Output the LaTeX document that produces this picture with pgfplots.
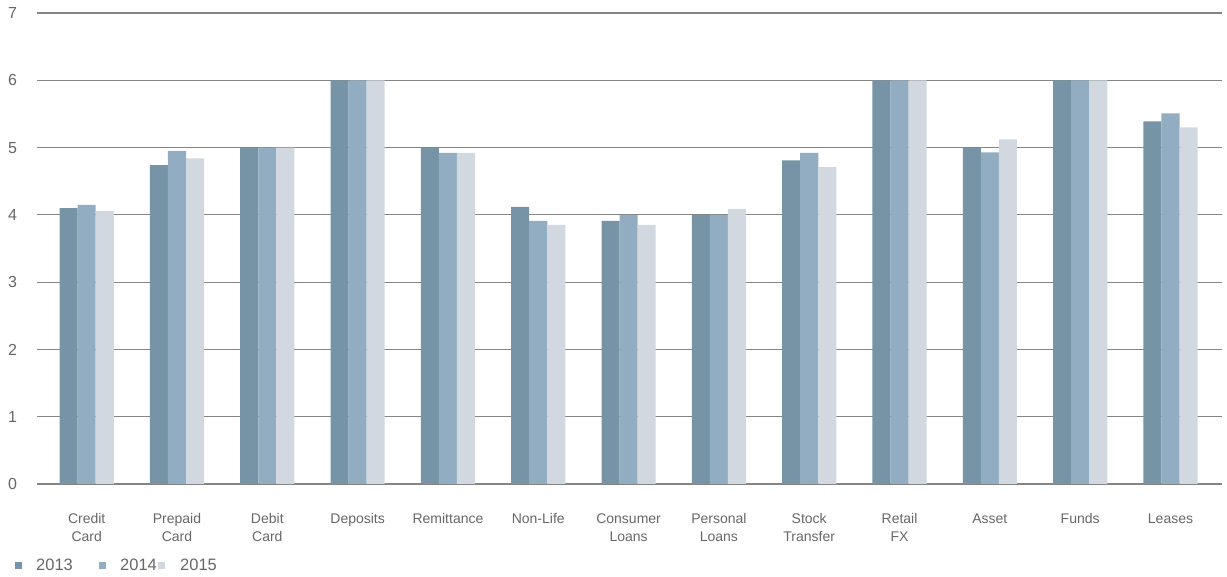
\documentclass[border=0pt]{standalone}
\usepackage{pgfplots}
\pgfplotsset{compat=1.18}
\usepackage{fontspec}
\setmainfont{Liberation Sans}
\definecolor{cA}{HTML}{7793A6}
\definecolor{cB}{HTML}{92ADC2}
\definecolor{cC}{HTML}{D1D8E0}
\definecolor{txt}{HTML}{676767}
\definecolor{grd}{HTML}{858585}
\begin{document}
\begin{tikzpicture}
\useasboundingbox (-37pt,-93pt) rectangle (1190pt,484pt);
\begin{axis}[
  at={(0pt,0pt)}, anchor=south west,
  scale only axis, width=1185pt, height=471pt,
  ybar, bar width=0.2,
  xmin=-0.55, xmax=12.57, ymin=0, ymax=7,
  axis line style={draw=none},
  ymajorgrids, grid style={grd, line width=1.1pt},
  major tick length=0pt,
  xtick={0,...,12}, ytick={0,...,7},
  xticklabels={{Credit\\Card},{Prepaid\\Card},{Debit\\Card},{Deposits},{Remittance},{Non-Life},{Consumer\\Loans},{Personal\\Loans},{Stock\\Transfer},{Retail\\FX},{Asset},{Funds},{Leases}},
  typeset ticklabels with strut,
  xticklabel style={align=center, anchor=north, inner sep=0pt, yshift=-26pt, font=\fontsize{14}{18.5}\selectfont, text=txt},
  yticklabel style={anchor=west, inner sep=0pt, xshift=-29pt, yshift=-2pt, font=\fontsize{16}{18}\selectfont, text=txt},
  /pgf/number format/assume math mode=true,
  legend columns=3,
  legend style={at={(axis description cs:-0.0211,-0.172)}, anchor=west, draw=none, fill=none, column sep=0pt, font=\fontsize{16.5}{18}\selectfont, text=txt, nodes={inner sep=0pt}},
]
\addplot[fill=cA, draw=none, bar shift=-0.2, legend image code/.code={\fill[cA] (0pt,-3.5pt) rectangle (7pt,3.5pt); \path (21pt,0pt);}] coordinates {(0,4.10) (1,4.74) (2,5.0) (3,6.0) (4,5.0) (5,4.12) (6,3.91) (7,4.0) (8,4.81) (9,6.0) (10,5.0) (11,6.0) (12,5.39)};
\addplot[fill=cB, draw=none, bar shift=0, legend image code/.code={\fill[cB] (0pt,-3.5pt) rectangle (7pt,3.5pt); \path (21pt,0pt);}] coordinates {(0,4.15) (1,4.95) (2,5.0) (3,6.0) (4,4.92) (5,3.91) (6,4.0) (7,4.0) (8,4.92) (9,6.0) (10,4.93) (11,6.0) (12,5.51)};
\addplot[fill=cC, draw=none, bar shift=0.2, legend image code/.code={\fill[cC] (0pt,-3.5pt) rectangle (7pt,3.5pt); \path (22pt,0pt);}] coordinates {(0,4.06) (1,4.84) (2,5.0) (3,6.0) (4,4.92) (5,3.85) (6,3.85) (7,4.09) (8,4.71) (9,6.0) (10,5.12) (11,6.0) (12,5.30)};
\legend{\makebox[63pt][l]{2013},\makebox[38pt][l]{2014},2015}
\end{axis}
\end{tikzpicture}
\end{document}
